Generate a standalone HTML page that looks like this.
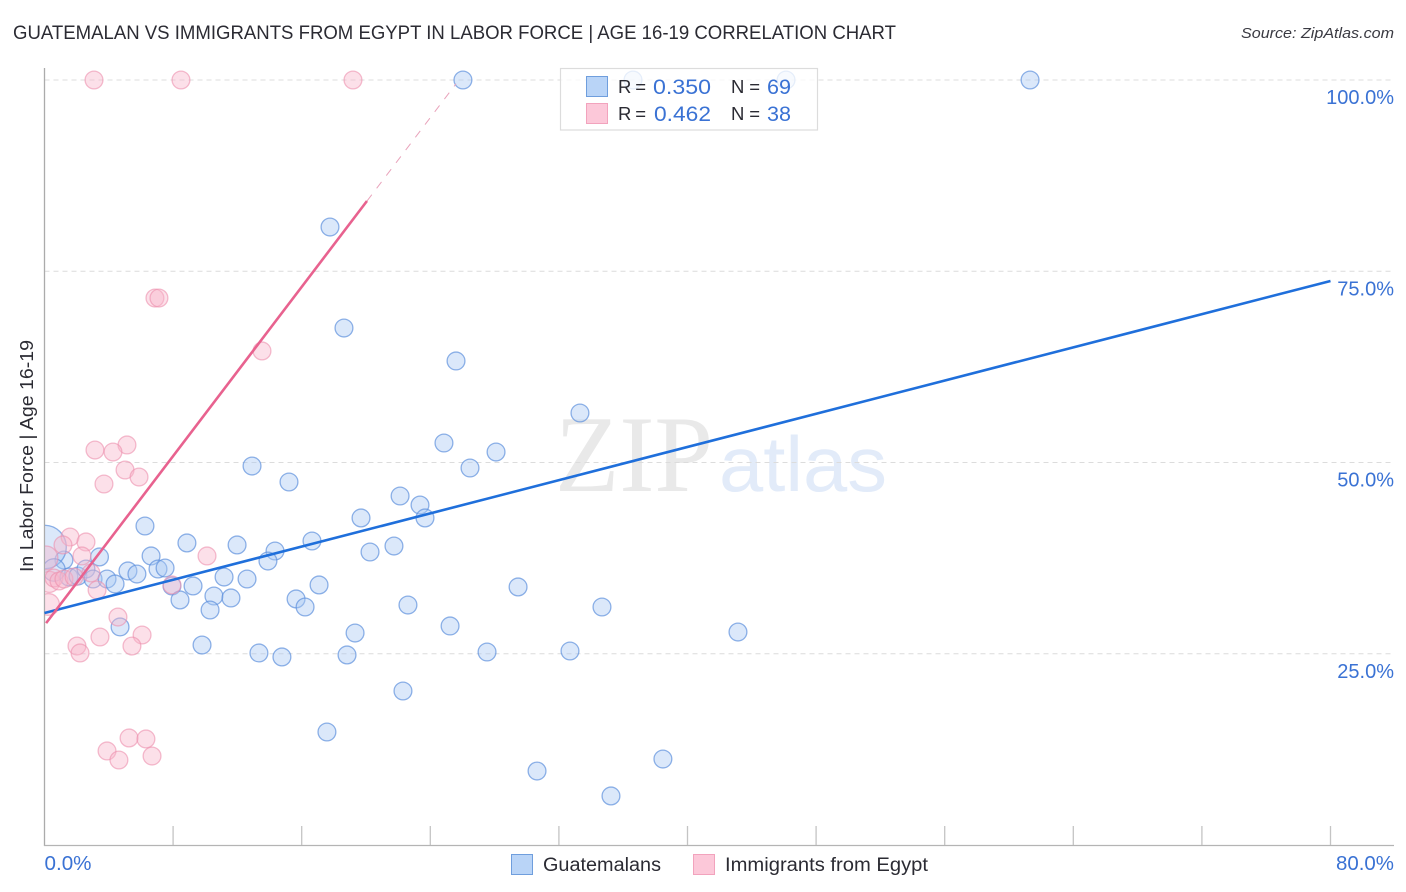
<!DOCTYPE html>
<html lang="en">
<head>
<meta charset="utf-8">
<title>Guatemalan vs Immigrants from Egypt in Labor Force | Age 16-19 Correlation Chart</title>
<style>
html,body{margin:0;padding:0;background:#fff;}
svg{display:block;font-family:"Liberation Sans",sans-serif;}
</style>
</head>
<body>
<svg id="chart" xmlns="http://www.w3.org/2000/svg" width="1406" height="892" viewBox="0 0 1406 892">
  <defs>
    <clipPath id="plot-clip"><rect x="45" y="60" width="1349" height="786"/></clipPath>
  </defs>
  <rect x="0" y="0" width="1406" height="892" fill="#ffffff"/>
  <text x="13" y="39" font-size="19.5" fill="#2b2b33" textLength="883" lengthAdjust="spacingAndGlyphs">GUATEMALAN VS IMMIGRANTS FROM EGYPT IN LABOR FORCE | AGE 16-19 CORRELATION CHART</text>
  <text x="1241" y="38" font-size="15" font-style="italic" fill="#3a3a42" textLength="153" lengthAdjust="spacingAndGlyphs">Source: ZipAtlas.com</text>
  <g>
    <text x="555" y="491" font-family="'Liberation Serif',serif" font-size="109" fill="#e9e9e9" textLength="158" lengthAdjust="spacingAndGlyphs">ZIP</text>
    <text x="719" y="491" font-size="78" fill="#e2ebf9" textLength="168" lengthAdjust="spacingAndGlyphs">atlas</text>
  </g>
  <g id="grid"></g>
  <g id="axes"></g>
  <g id="series-guatemalans" clip-path="url(#plot-clip)"></g>
  <g id="series-egypt" clip-path="url(#plot-clip)"></g>
  <g id="trends"></g>
  <g id="labels"></g>
  <text transform="translate(33,572) rotate(-90)" font-size="18.5" fill="#2b2b33" textLength="232" lengthAdjust="spacingAndGlyphs">In Labor Force | Age 16-19</text>

  <g>
    <rect x="560.5" y="68.5" width="257" height="61.5" fill="#ffffff" fill-opacity="0.78" stroke="#dcdcdc" stroke-width="1.2"/>
    <rect x="586.5" y="76.5" width="21" height="20" fill="#b9d4f7" stroke="#6f9edd" stroke-width="1"/>
    <rect x="586.5" y="103.5" width="21" height="20" fill="#fcc8d9" stroke="#f2a3bd" stroke-width="1"/>
    <text x="618" y="93" font-size="18.5" fill="#2b2b33" textLength="28">R =</text>
    <text x="653" y="94" font-size="21" fill="#3a72d4" textLength="58" lengthAdjust="spacingAndGlyphs">0.350</text>
    <text x="731" y="93" font-size="18.5" fill="#2b2b33" textLength="29">N =</text>
    <text x="767" y="94" font-size="21" fill="#3a72d4" textLength="24" lengthAdjust="spacingAndGlyphs">69</text>
    <text x="618" y="120" font-size="18.5" fill="#2b2b33" textLength="28">R =</text>
    <text x="654" y="121" font-size="21" fill="#3a72d4" textLength="57" lengthAdjust="spacingAndGlyphs">0.462</text>
    <text x="731" y="120" font-size="18.5" fill="#2b2b33" textLength="29">N =</text>
    <text x="767" y="121" font-size="21" fill="#3a72d4" textLength="24" lengthAdjust="spacingAndGlyphs">38</text>
  </g>

  <g>
    <g>
      <rect x="511.5" y="854.5" width="21" height="20" fill="#b9d4f7" stroke="#6f9edd" stroke-width="1"/>
      <text x="543" y="871" font-size="19" fill="#2b2b33" textLength="118" lengthAdjust="spacingAndGlyphs">Guatemalans</text>
    </g>
    <g>
      <rect x="693.5" y="854.5" width="21" height="20" fill="#fcc8d9" stroke="#f2a3bd" stroke-width="1"/>
      <text x="725" y="871" font-size="19" fill="#2b2b33" textLength="203" lengthAdjust="spacingAndGlyphs">Immigrants from Egypt</text>
    </g>
  </g>
</svg>
<script>
// ---- data (percent values) ----
const guatemalanX = [26.03,36.61,46.13,61.31,17.76,18.63,25.60,33.31,24.85,28.09,26.47,12.91,15.21,22.12,23.36,23.67,19.69,6.25,8.86,11.98,16.64,21.74,20.25,14.34,13.90,6.63,3.42,1.21,0.00,0.59,1.52,2.08,2.58,3.02,3.89,4.39,5.19,5.75,7.06,7.50,7.93,9.24,11.17,12.60,17.08,29.46,8.43,10.54,11.60,15.65,16.21,10.30,22.61,34.68,4.70,19.32,25.23,43.14,9.80,13.34,14.77,18.82,27.53,32.69,22.30,17.57,38.47,30.64,35.24];
const guatemalanY = [100,100,100,100,80.78,67.58,63.27,56.47,52.55,51.37,49.28,49.54,47.45,45.62,44.44,42.75,42.75,41.70,39.48,39.22,39.74,39.08,38.30,38.43,37.12,37.78,37.65,37.25,38.95,35.95,35.03,35.16,36.08,34.77,34.77,34.12,35.82,35.42,36.08,36.21,33.86,33.86,35.03,34.77,33.99,33.73,32.03,32.55,32.29,32.16,31.11,30.72,31.37,31.11,28.50,27.71,28.63,27.84,26.14,25.10,24.58,24.84,25.23,25.36,20.13,14.77,11.24,9.67,6.41];
const guatemalanWeight = [1,1,1,1,1,1,1,1,1,1,1,1,1,1,1,1,1,1,1,1,1,1,1,1,1,1,1,1,6,1.6,1,1,1,1,1,1,1,1,1,1,1,1,1,1,1,1,1,1,1,1,1,1,1,1,1,1,1,1,1,1,1,1,1,1,1,1,1,1,1];
const egyptX = [3.08,8.49,19.19,6.87,7.12,13.53,5.13,3.14,4.26,5.01,5.88,3.70,1.59,2.58,1.15,10.11,2.33,0.09,2.89,0.30,0.59,0.90,1.21,1.84,3.27,7.93,4.57,0.25,3.45,6.07,5.44,2.02,2.21,3.89,4.63,5.26,6.31,6.69];
const egyptY = [100,100,100,71.50,71.50,64.58,52.29,51.63,51.37,49.02,48.10,47.19,40.26,39.61,39.22,37.78,37.78,37.52,35.56,34.40,34.90,34.51,34.77,35.03,33.33,33.99,29.80,31.44,27.19,27.45,26.01,26.01,25.10,12.29,11.11,13.99,13.86,11.63];
const egyptWeight = [1,1,1,1,1,1,1,1,1,1,1,1,1,1,1,1,1,1.8,1,1.4,1,1,1,1,1,1,1,1.5,1,1,1,1,1,1,1,1,1,1];
const guatemalanTrendX = [0,80];
const guatemalanTrendY = [30.33,73.73];
const egyptTrendX = [0.1,20.06];
const egyptTrendY = [29.0,84.18];
const egyptTrendDashX = [20.06,25.6];
const egyptTrendDashY = [84.18,99.5];
const yTicks = [100,75,50,25];
const yTickLabels = ["100.0%","75.0%","50.0%","25.0%"];
const xTicks = [0,8,16,24,32,40,48,56,64,72,80];
const xEndLabels = ["0.0%","80.0%"];

// ---- axis functions ----
const NS = "http://www.w3.org/2000/svg";
function xScale(v){ return 44.5 + v * 16.075; }
function yScale(v){ return 845 - v * 7.65; }
function make(tag, attrs, parent){
  const el = document.createElementNS(NS, tag);
  for (const k in attrs) el.setAttribute(k, attrs[k]);
  parent.appendChild(el);
  return el;
}

const grid = document.getElementById("grid");
const axes = document.getElementById("axes");
const labels = document.getElementById("labels");
const trends = document.getElementById("trends");

yTicks.forEach(function(t, i){
  const line = make("line", {x1:44.5, x2:1394, y1:yScale(t), y2:yScale(t), stroke:"#dcdcdc", "stroke-width":1, "stroke-dasharray":"5 4"}, grid);
  
  
  const lab = make("text", {x:1394, y:yScale(t)+24, "text-anchor":"end", "font-size":20, fill:"#3a72d4"}, labels);
  lab.textContent = yTickLabels[i];
  
  
});

const yAxis = make("line", {x1:44.5, x2:44.5, y1:68, y2:846, stroke:"#ababab", "stroke-width":1.3}, axes);


const xAxis = make("line", {x1:44, x2:1394, y1:845.5, y2:845.5, stroke:"#b4b4b4", "stroke-width":1.3}, axes);


xTicks.slice(1).forEach(function(t){
  const tick = make("line", {x1:xScale(t), x2:xScale(t), y1:826, y2:845, stroke:"#c4c4c4", "stroke-width":1.3}, axes);
  
  
});

const xLabelLeft = make("text", {x:xScale(0), y:870, "font-size":20, fill:"#3a72d4", textLength:47, lengthAdjust:"spacingAndGlyphs"}, labels);
xLabelLeft.textContent = xEndLabels[0];


const xLabelRight = make("text", {x:1336, y:870, "font-size":20, fill:"#3a72d4", textLength:58, lengthAdjust:"spacingAndGlyphs"}, labels);
xLabelRight.textContent = xEndLabels[1];



const blueGroup = document.getElementById("series-guatemalans");
guatemalanX.forEach(function(x, i){
  const c = make("circle", {cx:xScale(x), cy:yScale(guatemalanY[i]), r:8.9*Math.sqrt(guatemalanWeight[i]), fill:"#a9c9f3", "fill-opacity":0.42, stroke:"#5a8ddb", "stroke-opacity":0.68, "stroke-width":1.3}, blueGroup);
  
  
});

const pinkGroup = document.getElementById("series-egypt");
egyptX.forEach(function(x, i){
  const c = make("circle", {cx:xScale(x), cy:yScale(egyptY[i]), r:8.9*Math.sqrt(egyptWeight[i]), fill:"#f9b6cb", "fill-opacity":0.42, stroke:"#ec8fae", "stroke-opacity":0.6, "stroke-width":1.3}, pinkGroup);
  
  
});

const blueTrend = make("line", {x1:xScale(guatemalanTrendX[0]), y1:yScale(guatemalanTrendY[0]), x2:xScale(guatemalanTrendX[1]), y2:yScale(guatemalanTrendY[1]), stroke:"#1f6fdb", "stroke-width":2.6}, trends);


const pinkTrend = make("line", {x1:xScale(egyptTrendX[0]), y1:yScale(egyptTrendY[0]), x2:xScale(egyptTrendX[1]), y2:yScale(egyptTrendY[1]), stroke:"#e8628f", "stroke-width":2.6}, trends);


const pinkDash = make("line", {x1:xScale(egyptTrendDashX[0]), y1:yScale(egyptTrendDashY[0]), x2:xScale(egyptTrendDashX[1]), y2:yScale(egyptTrendDashY[1]), stroke:"#e9a3bb", "stroke-width":1, "stroke-dasharray":"8 8"}, trends);


</script>
</body>
</html>
